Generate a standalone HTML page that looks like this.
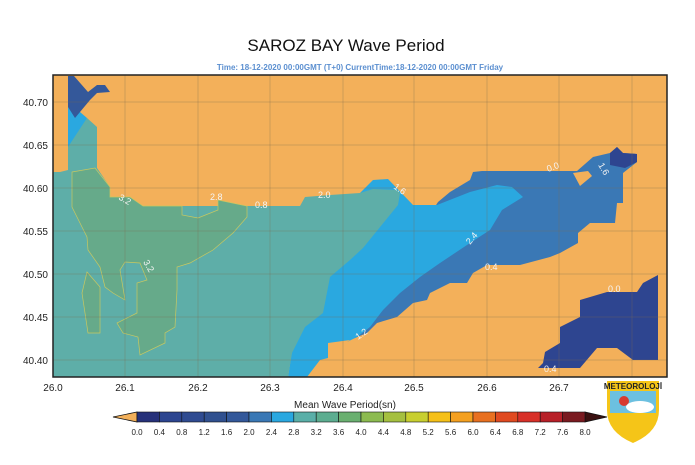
<!DOCTYPE html>
<html><head><meta charset="utf-8"><style>
body{margin:0;background:#fff;width:695px;height:460px;overflow:hidden;font-family:"Liberation Sans",sans-serif}
</style></head><body>
<svg width="695" height="460" viewBox="0 0 695 460" xmlns="http://www.w3.org/2000/svg" font-family="Liberation Sans, sans-serif">
<text x="346" y="51" font-size="17" text-anchor="middle" fill="#111">SAROZ BAY Wave Period</text>
<text x="360" y="70" font-size="8" font-weight="bold" text-anchor="middle" fill="#5b8fd0">Time: 18-12-2020 00:00GMT (T+0)  CurrentTime:18-12-2020 00:00GMT Friday</text>
<clipPath id="c"><rect x="53" y="75" width="614" height="302"/></clipPath>
<g clip-path="url(#c)">
<rect x="53" y="75" width="614" height="302" fill="#f3b05a"/>
<polygon fill="#3a78b5" points="438,202 450,192 470,180 473,172 482,171 577,171 593,157 610,153 617,147 623,153 637,154 637,162 623,173 623,203 617,203 615,223 590,223 578,233 578,243 560,253 550,257 520,265 487,265 473,273 467,283 450,283 430,293 427,300 413,303 397,317 377,323 367,333 350,340"/>
<polygon fill="#2e4590" points="610,153 617,147 623,153 637,154 637,162 625,168 610,165"/>
<polygon fill="#f3b05a" points="573,173 580,186 592,176 588,171"/>
<polygon fill="#2aa8e0" points="360,193 373,180 388,179 413,205 437,205 470,192 497,185 512,187 523,197 502,210 490,230 470,243 440,263 420,277 400,293 383,310 370,327 357,337 347,342 350,340 328,343 328,358 320,360 307,377 288,377 300,300 340,240"/>
<polygon fill="#2aa8e0" points="68,100 80,112 87,118 75,150 68,150"/>
<polygon fill="#5eaea8" points="53,172 60,172 68,170 68,147 87,118 97,127 97,168 110,187 110,197 130,197 143,206 300,206 305,197 330,195 360,193 373,189 397,190 400,193 398,205 363,248 350,260 330,277 323,313 305,327 292,353 288,377 53,377"/>
<polygon fill="#66aa8a" stroke="#c8c860" stroke-width="0.7" points="72,172 95,168 110,187 110,197 130,197 143,206 182,206 182,215 198,218 218,210 218,200 247,206 247,217 233,233 213,250 190,263 177,267 177,290 175,327 165,333 165,343 140,355 138,337 123,333 117,323 137,313 137,283 147,280 140,263 125,262 120,270 125,300 113,293 105,287 100,267 88,250 87,237 80,223 72,207"/>
<polygon fill="#66aa8a" stroke="#c8c860" stroke-width="0.7" points="87,272 100,287 100,333 88,333 82,293"/>
<polygon fill="#2e4590" points="560,327 560,343 545,352 543,363 538,368 580,368 597,348 617,348 633,360 658,360 658,275 643,283 637,292 607,292 580,300 580,317"/>
<polygon fill="#34589a" points="68,76 74,76 88,92 97,85 105,85 110,92 97,93 90,100 75,118 68,107"/>
<g stroke="#7a6a50" stroke-opacity="0.3" stroke-width="1">
<line x1="125" y1="75" x2="125" y2="377"/><line x1="198" y1="75" x2="198" y2="377"/><line x1="270" y1="75" x2="270" y2="377"/><line x1="343" y1="75" x2="343" y2="377"/><line x1="414" y1="75" x2="414" y2="377"/><line x1="487" y1="75" x2="487" y2="377"/><line x1="559" y1="75" x2="559" y2="377"/><line x1="632" y1="75" x2="632" y2="377"/>
<line x1="53" y1="102" x2="667" y2="102"/><line x1="53" y1="145" x2="667" y2="145"/><line x1="53" y1="188" x2="667" y2="188"/><line x1="53" y1="231" x2="667" y2="231"/><line x1="53" y1="274" x2="667" y2="274"/><line x1="53" y1="317" x2="667" y2="317"/><line x1="53" y1="360" x2="667" y2="360"/>
</g>
<g fill="#f4f4f4" font-size="9">
<text x="118" y="199" transform="rotate(30 118 199)">3.2</text>
<text x="210" y="200">2.8</text><text x="255" y="208">0.8</text><text x="318" y="198">2.0</text>
<text x="393" y="188" transform="rotate(35 393 188)">1.6</text>
<text x="143" y="262" transform="rotate(60 143 262)">3.2</text>
<text x="470" y="245" transform="rotate(-50 470 245)">2.4</text>
<text x="485" y="270">0.4</text><text x="548" y="172" transform="rotate(-20 548 172)">0.0</text>
<text x="598" y="165" transform="rotate(60 598 165)">1.6</text>
<text x="608" y="292">0.0</text><text x="544" y="372">0.4</text>
<text x="358" y="340" transform="rotate(-35 358 340)">1.2</text>
</g>
</g>
<rect x="53" y="75" width="614" height="302" fill="none" stroke="#222" stroke-width="1.5"/>
<g font-size="10" fill="#222" text-anchor="end">
<text x="48" y="106">40.70</text><text x="48" y="149">40.65</text><text x="48" y="192">40.60</text><text x="48" y="235">40.55</text><text x="48" y="278">40.50</text><text x="48" y="321">40.45</text><text x="48" y="364">40.40</text>
</g>
<g font-size="10" fill="#222" text-anchor="middle">
<text x="53" y="391">26.0</text><text x="125" y="391">26.1</text><text x="198" y="391">26.2</text><text x="270" y="391">26.3</text><text x="343" y="391">26.4</text><text x="414" y="391">26.5</text><text x="487" y="391">26.6</text><text x="559" y="391">26.7</text>
</g>
<text x="345" y="408" font-size="10" text-anchor="middle" fill="#222">Mean Wave Period(sn)</text>
<polygon points="113,417 137,412 137,422" fill="#f3b05a" stroke="#111" stroke-width="0.8"/>
<polygon points="607,417 585,412 585,422" fill="#3a1010" stroke="#111" stroke-width="0.8"/>
<g stroke="#111" stroke-width="0.6">
<rect x="137" y="412" width="22.4" height="10" fill="#26317a"/><rect x="159.4" y="412" width="22.4" height="10" fill="#2c4590"/><rect x="181.8" y="412" width="22.4" height="10" fill="#2f4b91"/><rect x="204.2" y="412" width="22.4" height="10" fill="#30508f"/><rect x="226.6" y="412" width="22.4" height="10" fill="#33589a"/><rect x="249" y="412" width="22.4" height="10" fill="#3a78b5"/><rect x="271.4" y="412" width="22.4" height="10" fill="#2aa8e0"/><rect x="293.8" y="412" width="22.4" height="10" fill="#5aafa8"/><rect x="316.2" y="412" width="22.4" height="10" fill="#5cad90"/><rect x="338.6" y="412" width="22.4" height="10" fill="#6ab070"/><rect x="361" y="412" width="22.4" height="10" fill="#8cbb50"/><rect x="383.4" y="412" width="22.4" height="10" fill="#a5c040"/><rect x="405.8" y="412" width="22.4" height="10" fill="#c8cf30"/><rect x="428.2" y="412" width="22.4" height="10" fill="#f5c018"/><rect x="450.6" y="412" width="22.4" height="10" fill="#f4a020"/><rect x="473" y="412" width="22.4" height="10" fill="#e87020"/><rect x="495.4" y="412" width="22.4" height="10" fill="#e04a20"/><rect x="517.8" y="412" width="22.4" height="10" fill="#d83028"/><rect x="540.2" y="412" width="22.4" height="10" fill="#b82028"/><rect x="562.6" y="412" width="22.4" height="10" fill="#7a1a20"/>
</g>
<g font-size="8" fill="#222" text-anchor="middle">
<text x="137" y="435">0.0</text><text x="159.4" y="435">0.4</text><text x="181.8" y="435">0.8</text><text x="204.2" y="435">1.2</text><text x="226.6" y="435">1.6</text><text x="249" y="435">2.0</text><text x="271.4" y="435">2.4</text><text x="293.8" y="435">2.8</text><text x="316.2" y="435">3.2</text><text x="338.6" y="435">3.6</text><text x="361" y="435">4.0</text><text x="383.4" y="435">4.4</text><text x="405.8" y="435">4.8</text><text x="428.2" y="435">5.2</text><text x="450.6" y="435">5.6</text><text x="473" y="435">6.0</text><text x="495.4" y="435">6.4</text><text x="517.8" y="435">6.8</text><text x="540.2" y="435">7.2</text><text x="562.6" y="435">7.6</text><text x="585" y="435">8.0</text>
</g>
<path d="M607,381 L659,381 L659,410 Q659,432 633,443 Q607,432 607,410 Z" fill="#f5c518"/>
<rect x="610" y="391" width="46" height="22" fill="#6cc0e0"/>
<circle cx="624" cy="401" r="5" fill="#d83a30"/>
<ellipse cx="640" cy="407" rx="14" ry="6" fill="#fff"/>
<text x="633" y="389" font-size="8" font-weight="bold" text-anchor="middle" fill="#222">METEOROLOJİ</text>
</svg>
</body></html>
